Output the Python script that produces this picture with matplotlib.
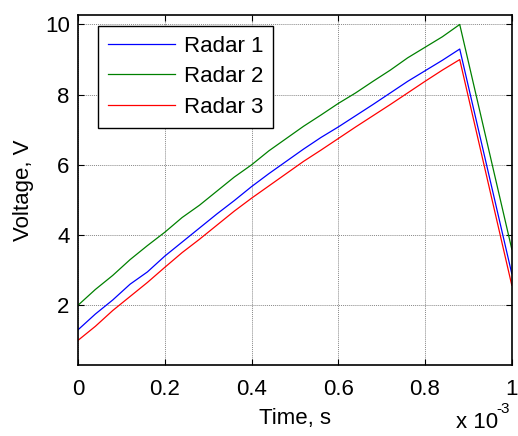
import matplotlib
matplotlib.use("Agg")
import matplotlib.pyplot as plt
from matplotlib.ticker import FuncFormatter

plt.rcParams['font.family'] = ['Liberation Sans', 'DejaVu Sans']

# Time (s)
t = [0, 0.04e-3, 0.08e-3, 0.12e-3, 0.16e-3, 0.20e-3, 0.24e-3, 0.28e-3, 0.32e-3,
     0.36e-3, 0.40e-3, 0.44e-3, 0.48e-3, 0.52e-3, 0.56e-3, 0.60e-3, 0.64e-3,
     0.68e-3, 0.72e-3, 0.76e-3, 0.80e-3, 0.84e-3, 0.88e-3, 1.0e-3]
radar1 = [1.30, 1.75, 2.15, 2.60, 2.95, 3.40, 3.80, 4.20, 4.60, 4.98, 5.38, 5.75,
          6.10, 6.45, 6.78, 7.08, 7.40, 7.72, 8.05, 8.38, 8.68, 8.98, 9.30, 2.90]
radar2 = [2.00, 2.45, 2.85, 3.30, 3.70, 4.08, 4.50, 4.85, 5.25, 5.65, 6.00, 6.40,
          6.75, 7.10, 7.42, 7.75, 8.05, 8.38, 8.70, 9.05, 9.35, 9.65, 10.00, 3.60]
radar3 = [1.00, 1.40, 1.85, 2.25, 2.65, 3.08, 3.50, 3.88, 4.28, 4.68, 5.05, 5.40,
          5.75, 6.10, 6.42, 6.75, 7.08, 7.40, 7.72, 8.05, 8.38, 8.70, 9.00, 2.57]
labels = ["Radar 1", "Radar 2", "Radar 3"]
colors = ["#0000ff", "#008000", "#ff0000"]
xticks = [0, 0.2e-3, 0.4e-3, 0.6e-3, 0.8e-3, 1.0e-3]
yticks = [2, 4, 6, 8, 10]

fig = plt.figure(figsize=(5.18, 4.36), dpi=100)
ax = fig.add_axes([0.1506, 0.163, 0.8374, 0.8026])

for y, lab, c in zip([radar1, radar2, radar3], labels, colors):
    ax.plot(t, y, color=c, linewidth=0.9, label=lab)

ax.set_xlim(0, 1e-3)
ax.set_ylim(0.3, 10.27)
ax.set_xticks(xticks)
ax.set_yticks(yticks)
ax.xaxis.set_major_formatter(FuncFormatter(lambda v, p: '%g' % round(v * 1e3, 6)))
ax.grid(True, color='#888888', linestyle=(0, (1, 1)), linewidth=0.7)
ax.tick_params(direction='in', length=4, width=0.8, labelsize=16, top=True, right=True)
ax.tick_params(axis='x', pad=10)
ax.tick_params(axis='y', pad=6)
for s in ax.spines.values():
    s.set_linewidth(1.2)

ax.set_xlabel("Time, s", fontsize=16, labelpad=6)
ax.set_ylabel("Voltage, V", fontsize=16, labelpad=8)

fig.text(0.880, 0.008, "x 10", fontsize=16, ha='left', va='bottom')
fig.text(0.959, 0.045, "-3", fontsize=11, ha='left', va='bottom')

leg = ax.legend(loc='upper left', bbox_to_anchor=(0.046, 0.969), borderaxespad=0,
                fontsize=16, fancybox=False, framealpha=1, edgecolor='black',
                handlelength=3.0, handletextpad=0.4, borderpad=0.45,
                labelspacing=0.42)
leg.get_frame().set_linewidth(1.0)

fig.savefig("out.png", dpi=100)
